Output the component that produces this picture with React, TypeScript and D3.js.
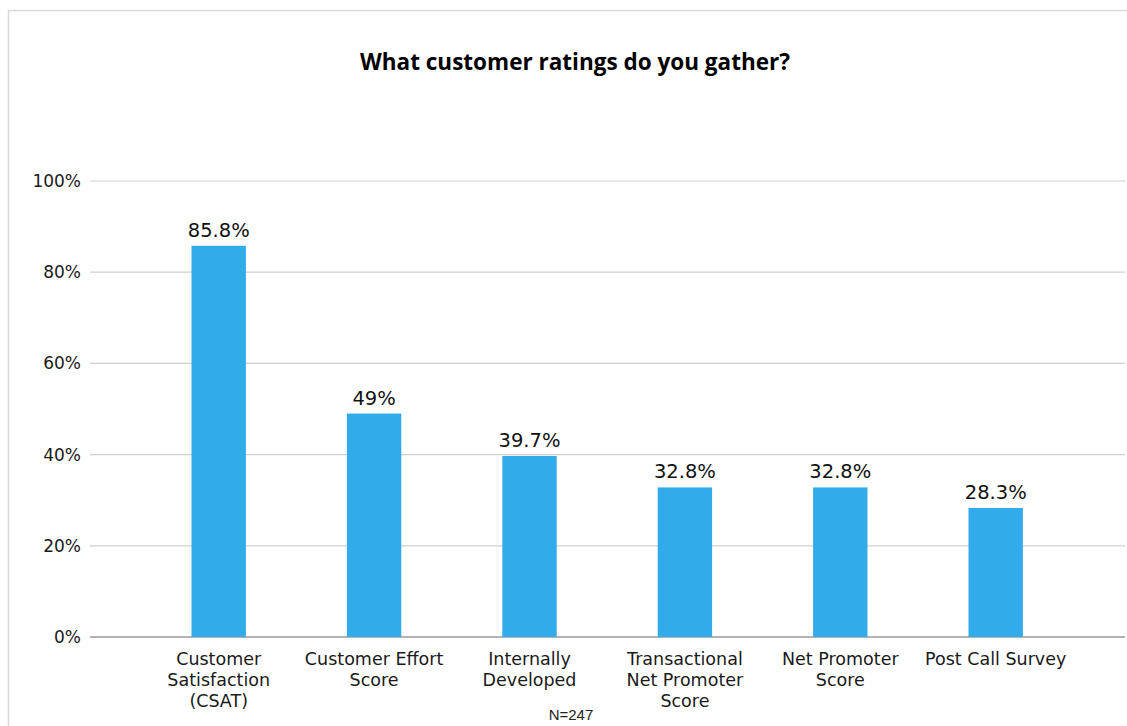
import React from "react";
import * as d3 from "d3";

const categories: string[][] = [
  ["Customer", "Satisfaction", "(CSAT)"],
  ["Customer Effort", "Score"],
  ["Internally", "Developed"],
  ["Transactional", "Net Promoter", "Score"],
  ["Net Promoter", "Score"],
  ["Post Call Survey"],
];
const values: number[] = [85.8, 49, 39.7, 32.8, 32.8, 28.3];
const valueLabels: string[] = ["85.8%", "49%", "39.7%", "32.8%", "32.8%", "28.3%"];
const yTicks: number[] = [0, 20, 40, 60, 80, 100];
const title = "What customer ratings do you gather?";
const note = "N=247";

const W = 1127;
const H = 726;

export default function App() {
  const keys = categories.map((c) => c.join(" "));
  const x = d3
    .scaleBand<string>()
    .domain(keys)
    .range([141, 1073.4])
    .paddingInner(0.65)
    .paddingOuter(0.325);
  const y = d3.scaleLinear().domain([0, 100]).range([637, 181]);
  const gridX0 = 90;
  const gridX1 = 1125;
  const font = "'DejaVu Sans', Verdana, sans-serif";

  return (
    <svg
      width={W}
      height={H}
      style={{ position: "absolute", left: 0, top: 0, background: "#fff" }}
    >
      <rect x={8.5} y={10.5} width={1130} height={730} fill="#fff" stroke="#d9d9d9" strokeWidth={1.5} />
      <text
        x={575}
        y={70}
        textAnchor="middle"
        fontFamily="'Open Sans', sans-serif"
        fontWeight={700}
        fontSize={22.5}
        fill="#000"
      >
        {title}
      </text>
      {yTicks.map((t) => (
        <g key={t}>
          <line
            x1={gridX0}
            x2={gridX1}
            y1={y(t)}
            y2={y(t)}
            stroke={t === 0 ? "#9a9a9a" : "#d0d0d0"}
            strokeWidth={t === 0 ? 1.5 : 1.2}
          />
          <text
            x={81}
            y={y(t) + 6}
            textAnchor="end"
            fontFamily={font}
            fontSize={17}
            fill="#1a1a1a"
          >
            {t}%
          </text>
        </g>
      ))}
      {values.map((v, i) => (
        <rect
          key={keys[i]}
          x={x(keys[i])}
          y={y(v)}
          width={x.bandwidth()}
          height={y(0) - y(v)}
          fill="#31ABE9"
        />
      ))}
      {values.map((v, i) => (
        <text
          key={"l" + i}
          x={(x(keys[i]) as number) + x.bandwidth() / 2}
          y={y(v) - 9}
          textAnchor="middle"
          fontFamily={font}
          fontSize={19.5}
          fill="#111"
        >
          {valueLabels[i]}
        </text>
      ))}
      {categories.map((lines, i) => (
        <text
          key={"c" + i}
          x={(x(keys[i]) as number) + x.bandwidth() / 2}
          y={665}
          textAnchor="middle"
          fontFamily={font}
          fontSize={17.5}
          fill="#1a1a1a"
        >
          {lines.map((ln, j) => (
            <tspan key={j} x={(x(keys[i]) as number) + x.bandwidth() / 2} y={665 + j * 21}>
              {ln}
            </tspan>
          ))}
        </text>
      ))}
      <text
        x={571}
        y={720}
        textAnchor="middle"
        fontFamily="'Liberation Sans', Arial, sans-serif"
        fontSize={15}
        fill="#222"
      >
        {note}
      </text>
    </svg>
  );
}
